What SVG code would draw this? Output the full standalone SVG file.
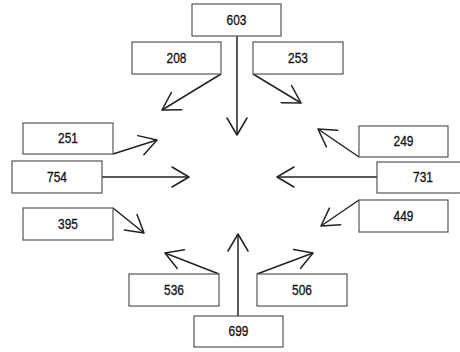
<svg xmlns="http://www.w3.org/2000/svg" width="460" height="352" viewBox="0 0 460 352">
<style>
.box{fill:#fff;stroke:#555;stroke-width:1.2}
.lbl{font-family:"Liberation Sans",Arial,sans-serif;font-size:14px;fill:#111;stroke:#111;stroke-width:0.3;text-anchor:middle;dominant-baseline:central}
.edge{fill:none;stroke:#222;stroke-width:1.5;marker-end:url(#arr)}
</style>
<defs>
<marker id="arr" markerUnits="userSpaceOnUse" viewBox="-20 -12 22 24" markerWidth="22" markerHeight="24" refX="0" refY="0" orient="auto" overflow="visible">
<path d="M-17,-10 L0,0 L-17,10" fill="none" stroke="#222" stroke-width="1.5" stroke-linecap="round" stroke-linejoin="round"/>
</marker>
</defs>
<rect width="460" height="352" fill="#fff"/>
<g id="connectors">
<line class="edge" x1="237" y1="36" x2="237" y2="135"/>
<line class="edge" x1="221" y1="74" x2="162" y2="110"/>
<line class="edge" x1="253" y1="74" x2="301" y2="103"/>
<line class="edge" x1="113" y1="154" x2="157" y2="140"/>
<line class="edge" x1="102" y1="177" x2="189" y2="177"/>
<line class="edge" x1="113" y1="208" x2="144" y2="233"/>
<line class="edge" x1="359" y1="157" x2="318" y2="129"/>
<line class="edge" x1="377" y1="177" x2="277" y2="177"/>
<line class="edge" x1="359" y1="200" x2="321" y2="226"/>
<line class="edge" x1="219" y1="274" x2="165" y2="253"/>
<line class="edge" x1="257" y1="274" x2="313" y2="253"/>
<line class="edge" x1="238" y1="316" x2="238" y2="234"/>
</g>
<g id="n603"><rect class="box" x="192" y="4" width="89" height="32"/><text class="lbl" transform="translate(236.5,20) scale(0.85,1)">603</text></g>
<g id="n208"><rect class="box" x="132" y="42" width="89" height="32"/><text class="lbl" transform="translate(176.5,58) scale(0.85,1)">208</text></g>
<g id="n253"><rect class="box" x="253" y="42" width="90" height="32"/><text class="lbl" transform="translate(298,58) scale(0.85,1)">253</text></g>
<g id="n251"><rect class="box" x="23" y="123" width="90" height="31"/><text class="lbl" transform="translate(68,138.5) scale(0.85,1)">251</text></g>
<g id="n754"><rect class="box" x="12" y="161" width="90" height="32"/><text class="lbl" transform="translate(57,177) scale(0.85,1)">754</text></g>
<g id="n395"><rect class="box" x="23" y="208" width="90" height="32"/><text class="lbl" transform="translate(68,224) scale(0.85,1)">395</text></g>
<g id="n249"><rect class="box" x="359" y="126" width="89" height="31"/><text class="lbl" transform="translate(403.5,141.5) scale(0.85,1)">249</text></g>
<g id="n731"><rect class="box" x="377" y="162" width="89" height="31"/><text class="lbl" transform="translate(423,177.5) scale(0.85,1)">731</text></g>
<g id="n449"><rect class="box" x="359" y="200" width="89" height="32"/><text class="lbl" transform="translate(403.5,216) scale(0.85,1)">449</text></g>
<g id="n536"><rect class="box" x="129" y="274" width="90" height="32"/><text class="lbl" transform="translate(174,290) scale(0.85,1)">536</text></g>
<g id="n506"><rect class="box" x="257" y="274" width="90" height="32"/><text class="lbl" transform="translate(302,290) scale(0.85,1)">506</text></g>
<g id="n699"><rect class="box" x="194" y="316" width="89" height="31"/><text class="lbl" transform="translate(238.5,331.5) scale(0.85,1)">699</text></g>
</svg>
